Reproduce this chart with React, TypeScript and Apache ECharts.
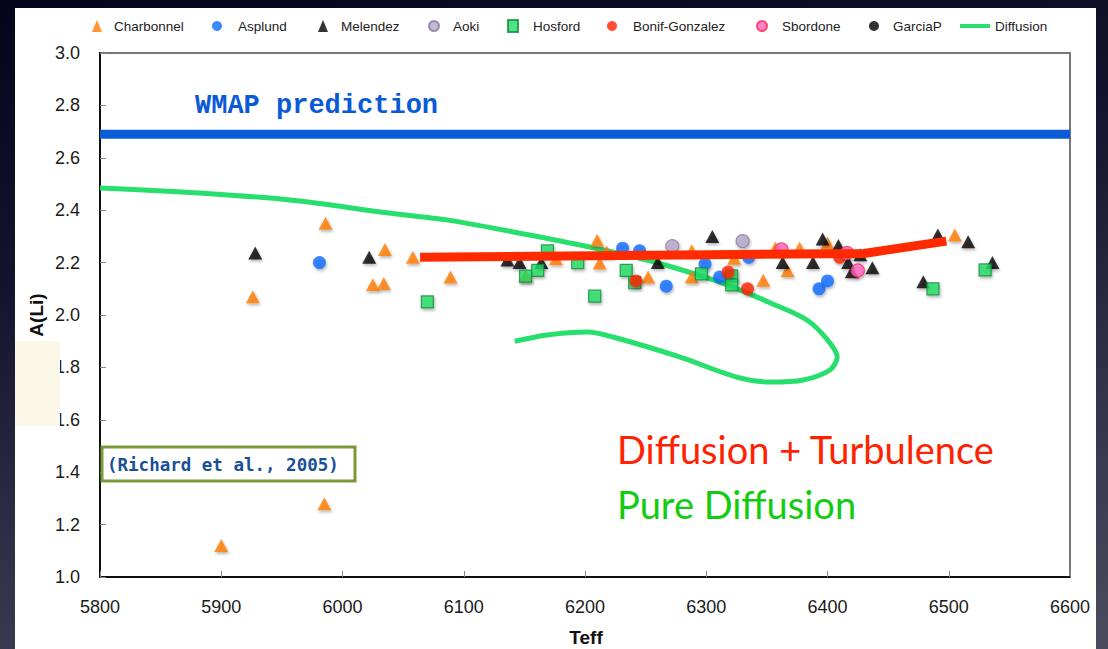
import React, { useEffect, useRef } from "react";
import * as echarts from "echarts";

// ---- data (Teff, A(Li)) ----
const charbonnel: [number, number][] = [
  [5900, 1.12], [5985, 1.28], [5926, 2.07], [5986, 2.35], [6025, 2.115], [6034, 2.12],
  [6035, 2.25], [6058, 2.22], [6089, 2.145], [6151, 2.15], [6176, 2.215], [6210, 2.285],
  [6212, 2.198], [6218, 2.24], [6252, 2.145], [6288, 2.245], [6288, 2.145], [6323, 2.217],
  [6347, 2.133], [6357, 2.256], [6377, 2.256], [6367, 2.17], [6400, 2.275], [6505, 2.305],
];
const asplund: [number, number][] = [
  [5981, 2.2], [6231, 2.255], [6245, 2.245], [6267, 2.11], [6299, 2.195], [6311, 2.145],
  [6335, 2.22], [6393, 2.1], [6400, 2.13],
];
const melendez: [number, number][] = [
  [5928, 2.237], [6022, 2.22], [6136, 2.21], [6146, 2.2], [6164, 2.2], [6260, 2.2],
  [6305, 2.3], [6363, 2.2], [6388, 2.2], [6396, 2.29], [6409, 2.265], [6417, 2.2],
  [6427, 2.23], [6420, 2.165], [6437, 2.18], [6479, 2.127], [6491, 2.305], [6516, 2.28],
  [6536, 2.2],
];
const aoki: [number, number][] = [[6272, 2.263], [6330, 2.282]];
const hosford: [number, number][] = [
  [6070, 2.05], [6151, 2.148], [6161, 2.17], [6169, 2.245], [6194, 2.2], [6208, 2.072],
  [6234, 2.17], [6241, 2.123], [6296, 2.157], [6321, 2.149], [6321, 2.115], [6487, 2.1],
  [6530, 2.172],
];
const bonifGonzalez: [number, number][] = [[6242, 2.13], [6318, 2.164], [6334, 2.1], [6410, 2.22]];
const sbordone: [number, number][] = [[6362, 2.25], [6416, 2.237], [6425, 2.17]];
const garciaP: [number, number][] = [];
const diffusion: [number, number][] = [
  [5800, 2.485], [5885, 2.465], [5965, 2.435], [6031, 2.393], [6086, 2.363], [6141, 2.317],
  [6196, 2.267], [6251, 2.21], [6306, 2.134], [6328, 2.095], [6353, 2.046], [6383, 1.981],
  [6400, 1.905], [6408, 1.84], [6402, 1.79], [6380, 1.752], [6353, 1.744], [6325, 1.763],
  [6278, 1.84], [6223, 1.916], [6202, 1.935], [6169, 1.924], [6142, 1.9],
];
const turbulence: [number, number][] = [[6064, 2.22], [6430, 2.235], [6498, 2.282]];
const wmap: [number, number][] = [[5800, 2.69], [6600, 2.69]];

const legendNames = ["Charbonnel", "Asplund", "Melendez", "Aoki", "Hosford", "Bonif-Gonzalez", "Sbordone", "GarciaP", "Diffusion"];
const legendIcons = ["triangle", "circle", "triangle", "circle", "rect", "circle", "circle", "circle", "path://M0,0 L30,0 L30,4 L0,4 Z"];
const legendIconX = [92, 212, 318, 428, 507, 607, 756, 869, 970];
const legendTextX = [109, 233, 336, 447, 527, 628, 776, 888, 990];

const shadow = { shadowBlur: 3, shadowColor: "rgba(0,0,0,0.35)", shadowOffsetX: 1, shadowOffsetY: 2 };

export default function App() {
  const ref = useRef<HTMLDivElement>(null);
  useEffect(() => {
    document.body.style.margin = "0";
    const chart = echarts.init(ref.current!, null, { renderer: "svg" });
    const scatter = (name: string, data: [number, number][], symbol: string, size: number | number[], color: string, border?: string) => ({
      name,
      type: "scatter",
      data,
      symbol,
      symbolSize: size,
      z: 3,
      itemStyle: { color, borderColor: border || color, borderWidth: border ? 1.2 : 0, ...shadow },
    });
    const legends = legendNames.map((n, i) => {
      const isLine = n === "Diffusion";
      const w = isLine ? 30 : 10;
      const h = 12;
      const left = legendIconX[i] - w / 2;
      const pad = legendTextX[i] - left - w - 5;
      return {
        data: [{ name: n, icon: legendIcons[i], itemStyle: { shadowBlur: 0, shadowOffsetX: 0, shadowOffsetY: 0 } }],
        left,
        top: 20 - h / 2,
        itemWidth: w,
        itemHeight: h,
        symbolKeepAspect: isLine,
        textStyle: { fontSize: 13.5, color: "#222", fontFamily: "Liberation Sans", padding: [0, 0, 0, Math.max(0, pad)] },
      };
    });
    chart.setOption({
      animation: false,
      backgroundColor: "transparent",
      legend: legends,
      grid: { left: 100, top: 53, right: 38, bottom: 72, show: true, borderColor: "#777", borderWidth: 2, backgroundColor: "transparent" },
      xAxis: {
        type: "value", min: 5800, max: 6600, interval: 100,
        axisLine: { show: true, onZero: false, lineStyle: { color: "#111", width: 2 } },
        axisTick: { show: true, inside: true, length: 6, lineStyle: { color: "#888" } },
        axisLabel: { margin: 21, fontSize: 18, color: "#1a1a1a", fontFamily: "Liberation Sans", formatter: (v: number) => String(v) },
        splitLine: { show: false },
      },
      yAxis: {
        type: "value", min: 1, max: 3, interval: 0.2,
        axisLine: { show: true, onZero: false, lineStyle: { color: "#111", width: 2 } },
        axisTick: { show: true, inside: true, length: 6, lineStyle: { color: "#888" } },
        axisLabel: { margin: 20, fontSize: 18, color: "#1a1a1a", fontFamily: "Liberation Sans", formatter: (v: number) => v.toFixed(1) },
        splitLine: { show: false },
      },
      series: [
        { name: "Diffusion", type: "line", data: diffusion, smooth: 0.3, showSymbol: false, symbol: "none", z: 2,
          lineStyle: { color: "#27df6c", width: 5 }, itemStyle: { color: "#27df6c" } },
        { name: "WMAP", type: "line", data: wmap, showSymbol: false, symbol: "none", z: 2,
          lineStyle: { color: "#0a5cd6", width: 9 } },
        scatter("Charbonnel", charbonnel, "triangle", [14, 13], "#ff7a00"),
        scatter("Asplund", asplund, "circle", 13, "#0a6cff"),
        scatter("Melendez", melendez, "triangle", [14, 13], "#000000"),
        scatter("Aoki", aoki, "circle", 13, "#b7a8cc", "#8a7aa0"),
        scatter("Hosford", hosford, "rect", 12, "#22dd66", "#138a3a"),
        scatter("Bonif-Gonzalez", bonifGonzalez, "circle", 13, "#ff2200"),
        scatter("Sbordone", sbordone, "circle", 13, "#ff66c4", "#ff2a55"),
        scatter("GarciaP", garciaP, "circle", 13, "#000000"),
        { name: "Turbulence", type: "line", data: turbulence, showSymbol: false, symbol: "none", z: 4,
          lineStyle: { color: "#ff2a00", width: 9 } },
      ],
      graphic: [
        { type: "text", x: 195, y: 106, z: 10, style: { text: "WMAP prediction", font: 'bold 27px "Liberation Mono"', fill: "#0a5ad8", verticalAlign: "middle" } },
        { type: "rect", z: 10, shape: { x: 102, y: 447, width: 253, height: 34 }, style: { fill: "#fff", stroke: "#7a9a3a", lineWidth: 3 } },
        { type: "text", x: 107, y: 465, z: 11, style: { text: "(Richard et al., 2005)", font: 'bold 17.5px "DejaVu Sans Mono"', fill: "#1a4f9a", verticalAlign: "middle" } },
        { type: "text", x: 617, y: 449, z: 10, style: { text: "Diffusion + Turbulence", font: '38px "Lato"', fill: "#ff2200", verticalAlign: "middle" } },
        { type: "text", x: 617, y: 504, z: 10, style: { text: "Pure Diffusion", font: '38px "Lato"', fill: "#11cc11", verticalAlign: "middle" } },
        { type: "text", x: 586, y: 637, z: 10, style: { text: "Teff", font: 'bold 19px "Liberation Sans"', fill: "#111", align: "center", verticalAlign: "middle" } },
        { type: "text", x: 36, y: 315, rotation: Math.PI / 2, z: 10, style: { text: "A(Li)", font: 'bold 19px "Liberation Sans"', fill: "#111", align: "center", verticalAlign: "middle" } },
        { type: "rect", z: 20, shape: { x: 15, y: 341, width: 45, height: 85 }, style: { fill: "#fcf8e8" } },
      ],
    });
    return () => chart.dispose();
  }, []);
  return (
    <div style={{ position: "relative", width: 1108, height: 649, overflow: "hidden", background: "linear-gradient(170deg, #04041a 0%, #14142e 35%, #33334a 70%, #4c4c60 100%)" }}>
      <div style={{ position: "absolute", left: 15, top: 8, width: 1081, height: 641, background: "#ffffff" }} />
      <div ref={ref} style={{ position: "absolute", left: 0, top: 0, width: 1108, height: 649 }} />
    </div>
  );
}
